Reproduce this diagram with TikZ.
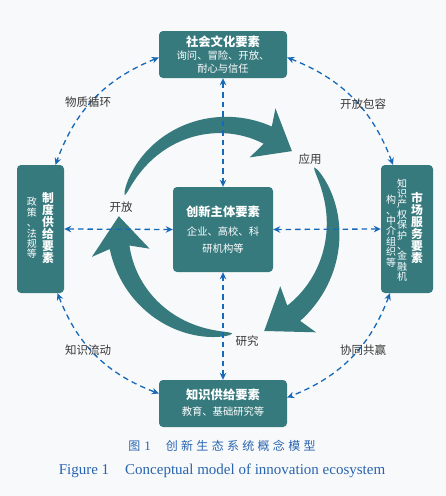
\documentclass[tikz,border=0pt]{standalone}
\usepackage{fontspec}
\setmainfont{Liberation Serif}
\newfontfamily\cjk{Noto Sans CJK SC}
\usetikzlibrary{arrows.meta,calc}
\definecolor{boxteal}{RGB}{55,122,126}
\definecolor{dashblue}{RGB}{22,104,184}
\definecolor{capblue}{RGB}{40,100,175}
\definecolor{bgc}{RGB}{248,249,250}
\definecolor{labelgray}{RGB}{55,55,55}
\newcommand{\cyclearrow}[7]{%
\fill[boxteal] plot[variable=\s,domain=0:1,samples=50,smooth] ({#1+(#3+#4*sqrt(\s))*cos(#5+(#6-#5)*\s)},{#2-(#3+#4*sqrt(\s))*sin(#5+(#6-#5)*\s)})
 -- ({#1+(#3+2.9*#4)*cos(#6+2)},{#2-(#3+2.9*#4)*sin(#6+2)})
 -- ({#1+#3*cos(#6-#7)},{#2-#3*sin(#6-#7)})
 -- ({#1+(#3-2.9*#4)*cos(#6+5)},{#2-(#3-2.9*#4)*sin(#6+5)})
 -- plot[variable=\s,domain=0:1,samples=50,smooth] ({#1+(#3-#4*sqrt(abs(1-\s)))*cos(#6+(#5-#6)*\s)},{#2-(#3-#4*sqrt(abs(1-\s)))*sin(#6+(#5-#6)*\s)})
 -- cycle;}
\begin{document}
\begin{tikzpicture}[x=1pt,y=-1pt,
  box/.style={fill=boxteal, rounded corners=4pt, inner sep=0pt},
  ttl/.style={text=white, inner sep=0pt, font=\cjk\bfseries\fontsize{12.3}{13}\selectfont},
  sub/.style={text=white, inner sep=0pt, font=\cjk\fontsize{10.3}{11}\selectfont},
  vttl/.style={ttl, align=center, font=\cjk\bfseries\fontsize{11.8}{11.9}\selectfont},
  vsub/.style={sub, align=center, font=\cjk\fontsize{10}{10.4}\selectfont},
  link/.style={dashblue, line width=1.3pt, dash pattern=on 5.5pt off 4pt, {Stealth[length=7pt,width=6.5pt]}-{Stealth[length=7pt,width=6.5pt]}},
  lbl/.style={text=labelgray, font=\cjk\fontsize{11.5}{12}\selectfont, inner sep=1pt}
]
\fill[bgc] (0,0) rectangle (446,496);
\useasboundingbox (0,0) rectangle (446,496);

% big cycle arrows
\cyclearrow{223}{229}{104}{9.5}{161}{64.5}{16}
\cyclearrow{223}{229}{110}{10}{34}{-50}{18}
\cyclearrow{223}{229}{105}{10}{275}{190}{17}

% boxes
\node[box, minimum width=128pt, minimum height=47pt] (top) at (223,54.5) {};
\node[box, minimum width=47pt, minimum height=128pt] (left) at (40.5,229) {};
\node[box, minimum width=52pt, minimum height=128pt] (right) at (407,229) {};
\node[box, minimum width=128pt, minimum height=47pt] (bottom) at (223,403.5) {};
\node[box, minimum width=100pt, minimum height=85pt] (center) at (223,229.5) {};

% box texts
\node[ttl] (topT) at (223,41.5) {社会文化要素};
\node[sub] (topS1) at (223,55.5) {询问、冒险、开放、};
\node[sub] (topS2) at (223,68.5) {耐心与信任};

\node[ttl] (botT) at (223,395) {知识供给要素};
\node[sub] (botS) at (223,412) {教育、基础研究等};

\node[ttl] (cenT) at (223,212) {创新主体要素};
\node[sub] (cenS1) at (223,232) {企业、高校、科};
\node[sub] (cenS2) at (223,249) {研机构等};

\node[vttl] (leftT) at (48,228) {制\\度\\供\\给\\要\\素};
\node[vsub] (leftS) at (32,228) {政\\策\\、\\法\\规\\等};

\node[vttl] (rightT) at (417,228) {市\\场\\服\\务\\要\\素};
\node[vsub] (rightS1) at (402,230) {知\\识\\产\\权\\保\\护\\、\\金\\融\\机};
\node[vsub] (rightS2) at (391,231) {构\\、\\中\\介\\组\\织\\等};

% dashed connectors
\draw[link] (top.south) -- (center.north);
\draw[link] (bottom.north) -- (center.south);
\draw[link] (left.east) -- (center.west);
\draw[link] (right.west) -- (center.east);
\draw[link] ([yshift=-3pt]top.west) to[bend right=24] ([xshift=15pt]left.north);
\draw[link] ([yshift=-3pt]top.east) to[bend left=24] ([xshift=-14pt]right.north);
\draw[link] ([xshift=17pt]left.south) to[bend right=24] ([yshift=10pt]bottom.west);
\draw[link] ([xshift=-17pt]right.south) to[bend left=24] ([yshift=6pt]bottom.east);

% labels
\node[lbl] (l1) at (88,102) {物质循环};
\node[lbl] (l2) at (363,104) {开放包容};
\node[lbl] (l3) at (88,350) {知识流动};
\node[lbl] (l4) at (363,350) {协同共赢};
\node[lbl] (l5) at (121,207) {开放};
\node[lbl] (l6) at (310,159) {应用};
\node[lbl] (l7) at (247,341) {研究};

% caption
\node[text=capblue, inner sep=0pt] (cap1) at (222,446) {{\cjk\fontsize{12}{14}\selectfont 图}\hspace{4pt}{\fontsize{13}{14}\selectfont 1}\hspace{15pt}{\cjk\fontsize{12}{14}\selectfont 创\hspace{3.3pt}新\hspace{3.3pt}生\hspace{3.3pt}态\hspace{3.3pt}系\hspace{3.3pt}统\hspace{3.3pt}概\hspace{3.3pt}念\hspace{3.3pt}模\hspace{3.3pt}型}};
\node[text=capblue, inner sep=0pt, font=\fontsize{15}{17}\selectfont] (cap2) at (222,471) {Figure 1\hspace{16pt}Conceptual model of innovation ecosystem};
\end{tikzpicture}
\end{document}
